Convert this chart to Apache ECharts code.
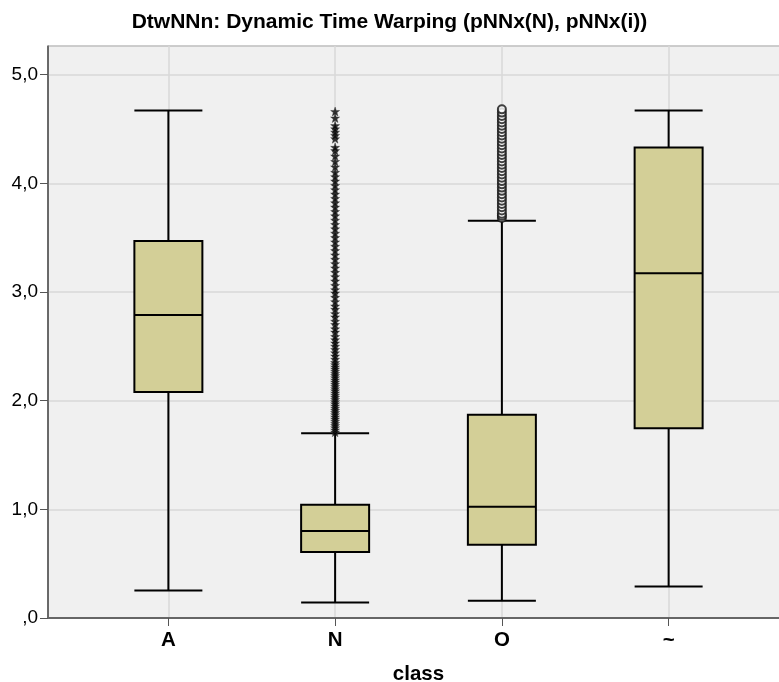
<!DOCTYPE html>
<html>

	<head>
		<meta charset="UTF-8">
		<title></title>
		<script src="https://cdn.jsdelivr.net/npm/echarts@6/dist/echarts.min.js"></script>
	</head>

	<body style="margin:0;background:#fff;">
		<div id="echartsDom" style="width:779px;height:682px;"></div>
	</body>
	<script>
		var categories = ['A', 'N', 'O', '~'];
		// [min, Q1, median, Q3, max]
		var boxA = [0.254, 2.08, 2.788, 3.468, 4.67];
		var boxN = [0.143, 0.607, 0.80, 1.041, 1.70];
		var boxO = [0.159, 0.674, 1.023, 1.871, 3.655];
		var boxTilde = [0.29, 1.746, 3.171, 4.329, 4.67];
		// extreme values (stars) for N
		var extremeN = [1.71, 1.73, 1.75, 1.77, 1.79, 1.81, 1.83, 1.85, 1.87, 1.89, 1.91, 1.93, 1.95, 1.97, 1.99,
			2.01, 2.03, 2.05, 2.07, 2.09, 2.11, 2.13, 2.15, 2.17, 2.19, 2.21, 2.23, 2.25, 2.27, 2.29, 2.31, 2.33, 2.35,
			2.38, 2.41, 2.44, 2.47, 2.50, 2.53, 2.56, 2.59, 2.63, 2.66, 2.70, 2.73, 2.77, 2.80, 2.84, 2.87, 2.91, 2.95,
			2.99, 3.02, 3.06, 3.10, 3.14, 3.18, 3.22, 3.26, 3.30, 3.34, 3.38, 3.42, 3.46, 3.50, 3.54, 3.58, 3.62, 3.66,
			3.70, 3.74, 3.78, 3.82, 3.86, 3.90, 3.94, 3.98, 4.02, 4.06, 4.10, 4.15, 4.20, 4.25, 4.30, 4.33,
			4.41, 4.44, 4.47, 4.50, 4.53, 4.60, 4.66];
		// outliers (circles) for O
		var outlierO = [3.68, 3.70, 3.72, 3.75, 3.78, 3.81, 3.84, 3.87, 3.90, 3.93, 3.96, 3.99, 4.02, 4.05, 4.08,
			4.11, 4.14, 4.17, 4.20, 4.23, 4.26, 4.29, 4.32, 4.35, 4.38, 4.41, 4.44, 4.47, 4.50, 4.53, 4.56, 4.59,
			4.62, 4.65, 4.68];
		var yTicks = [0, 1, 2, 3, 4, 5];

		var starPath = 'path://M12,0 L15,9 L24,9 L17,14.5 L19.5,23.5 L12,18 L4.5,23.5 L7,14.5 L0,9 L9,9 Z';
		var font = 'Arial, "Liberation Sans", sans-serif';

		var starData = [];
		for(var i = 0; i < extremeN.length; i++) {
			starData.push([1, extremeN[i]]);
		}
		var circleData = [];
		for(var j = 0; j < outlierO.length; j++) {
			circleData.push([2, outlierO[j]]);
		}

		var option = {
			animation: false,
			backgroundColor: '#fff',
			title: {
				text: 'DtwNNn: Dynamic Time Warping (pNNx(N), pNNx(i))',
				left: 'center',
				top: 7,
				textStyle: {
					fontFamily: font,
					fontSize: 21,
					fontWeight: 'bold',
					color: '#000'
				}
			},
			grid: [{
				left: 48,
				right: -5,
				top: 46,
				bottom: 64,
				outerBoundsMode: 'none',
				show: true,
				backgroundColor: '#f0f0f0',
				borderColor: '#555',
				borderWidth: 1
			}, {
				left: 85,
				right: 27,
				top: 46,
				bottom: 64,
				outerBoundsMode: 'none'
			}],
			xAxis: [{
				gridIndex: 0,
				type: 'value',
				min: 0,
				max: 1,
				axisLine: { show: true, lineStyle: { color: '#666', width: 2 } },
				axisTick: { show: false },
				axisLabel: { show: false },
				splitLine: { show: false }
			}, {
				gridIndex: 1,
				type: 'category',
				data: categories,
				name: 'class',
				nameLocation: 'middle',
				nameGap: 46,
				nameTextStyle: { fontFamily: font, fontSize: 20.5, fontWeight: 'bold', color: '#000' },
				axisLine: { show: false },
				axisTick: { show: true, alignWithLabel: true, length: 8, lineStyle: { color: '#555', width: 1 } },
				axisLabel: { margin: 12, fontFamily: font, fontSize: 20.5, fontWeight: 'bold', color: '#000' },
				splitLine: { show: true, alignWithLabel: true, lineStyle: { color: '#d8d8d8', width: 1.5 } }
			}],
			yAxis: [{
				gridIndex: 0,
				type: 'value',
				min: 0,
				max: 5.263,
				interval: 1,
				axisLine: { show: true, lineStyle: { color: '#555', width: 1.5 } },
				axisTick: { show: true, length: 8, lineStyle: { color: '#555', width: 1 } },
				axisLabel: {
					margin: 10,
					padding: [5, 0, 0, 0],
					fontFamily: font,
					fontSize: 19,
					color: '#000',
					showMaxLabel: false,
					formatter: function(v) {
						if(yTicks.indexOf(v) < 0) return '';
						return v == 0 ? ',0' : v.toFixed(1).replace('.', ',');
					}
				},
				splitLine: { show: true, lineStyle: { color: '#d8d8d8', width: 1.5 } }
			}, {
				gridIndex: 1,
				type: 'value',
				min: 0,
				max: 5.263,
				show: false
			}],
			series: [{
				type: 'boxplot',
				xAxisIndex: 1,
				yAxisIndex: 1,
				z: 3,
				boxWidth: [68, 68],
				itemStyle: {
					color: '#d3cf97',
					borderColor: '#000',
					borderWidth: 2
				},
				data: [boxA, boxN, boxO, boxTilde]
			}, {
				type: 'scatter',
				xAxisIndex: 1,
				yAxisIndex: 1,
				z: 4,
				symbol: starPath,
				symbolSize: 9,
				itemStyle: { color: '#000', borderColor: '#333', borderWidth: 0.5 },
				data: starData
			}, {
				type: 'scatter',
				xAxisIndex: 1,
				yAxisIndex: 1,
				z: 4,
				symbol: 'emptyCircle',
				symbolSize: 8,
				itemStyle: { color: '#111', borderColor: '#111', borderWidth: 1.6 },
				data: circleData
			}]
		};

		var dom = document.getElementById('echartsDom');
		var myChart = echarts.init(dom);
		myChart.setOption(option);
	</script>

</html>
